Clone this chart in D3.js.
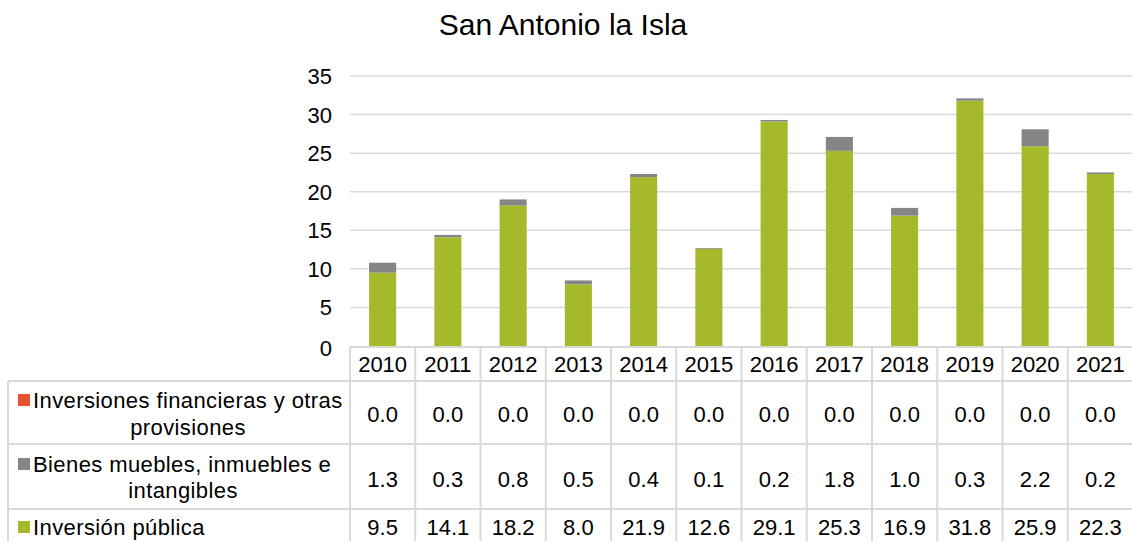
<!DOCTYPE html>
<html>
<head>
<meta charset="utf-8">
<script src="https://cdn.jsdelivr.net/npm/d3@7/dist/d3.min.js"></script>
<style>
  html, body { margin: 0; padding: 0; background: #fff; }
  svg { display: block; font-family: "Liberation Sans", Arial, sans-serif; }
</style>
</head>
<body>
<svg id="chart" width="1132" height="541"></svg>
<script>
const years = ["2010","2011","2012","2013","2014","2015","2016","2017","2018","2019","2020","2021"];
const inversionPublica = [9.5, 14.1, 18.2, 8.0, 21.9, 12.6, 29.1, 25.3, 16.9, 31.8, 25.9, 22.3];
const bienesMuebles = [1.3, 0.3, 0.8, 0.5, 0.4, 0.1, 0.2, 1.8, 1.0, 0.3, 2.2, 0.2];
const inversionesFinancieras = [0.0, 0.0, 0.0, 0.0, 0.0, 0.0, 0.0, 0.0, 0.0, 0.0, 0.0, 0.0];
const yTicks = [0, 5, 10, 15, 20, 25, 30, 35];
const chartTitle = "San Antonio la Isla";

const seriesList = [
  { key: "pub", values: inversionPublica, color: "#A6B92B", lines: ["Inversión pública"] },
  { key: "bie", values: bienesMuebles, color: "#858585", lines: ["Bienes muebles, inmuebles e", "intangibles"] },
  { key: "fin", values: inversionesFinancieras, color: "#E2532B", lines: ["Inversiones financieras y otras", "provisiones"] }
];

(function () {
const svg = d3.select("#chart");
const pLeft = 350, pRight = 1133, pTop = 76, pBottom = 346;
const gridColor = "#D9D9D9";
const fs = 22;

const x = d3.scaleBand().domain(years).range([pLeft, pRight]).paddingInner(0.585).paddingOuter(0.2925);
const xCell = d3.scaleBand().domain(years).range([pLeft, pRight]).padding(0);
const y = d3.scaleLinear().domain([0, 35]).range([pBottom, pTop]);

// title
svg.append("text").attr("x", 563).attr("y", 35).attr("text-anchor", "middle")
  .attr("font-size", 30).attr("fill", "#000").text(chartTitle);

// gridlines
svg.append("g").selectAll("line").data(yTicks.filter(d => d > 0)).join("line")
  .attr("x1", pLeft).attr("x2", pRight)
  .attr("y1", d => y(d)).attr("y2", d => y(d))
  .attr("stroke", gridColor).attr("stroke-width", 1.5);

// y axis labels
const yAxis = d3.axisLeft(y).tickValues(yTicks).tickSize(0).tickPadding(0).tickFormat(d3.format("d"));
const ya = svg.append("g").attr("transform", "translate(332,0)").call(yAxis);
ya.select(".domain").remove();
ya.selectAll("text").attr("font-size", fs).attr("fill", "#000")
  .attr("font-family", '"Liberation Sans", Arial, sans-serif').attr("dy", "0.34em");
ya.selectAll("text").filter(d => d === 0).attr("dy", "0.45em");

// stacked bars
const stackData = years.map((yr, i) => ({ year: yr, pub: inversionPublica[i], bie: bienesMuebles[i], fin: inversionesFinancieras[i] }));
const stack = d3.stack().keys(["pub", "bie", "fin"])(stackData);
const colorMap = { pub: "#A6B92B", bie: "#858585", fin: "#E2532B" };
svg.append("g").selectAll("g").data(stack).join("g")
  .attr("fill", d => colorMap[d.key])
  .selectAll("rect").data(d => d).join("rect")
  .attr("x", d => x(d.data.year))
  .attr("width", x.bandwidth())
  .attr("y", d => y(d[1]))
  .attr("height", d => Math.max(0, y(d[0]) - y(d[1])));

// data table
const rowTop = [347, 381, 444, 509];
const tableBottom = 575;
const legendLeft = 8;
const tg = svg.append("g").attr("stroke", gridColor).attr("stroke-width", 2);
tg.append("line").attr("x1", pLeft).attr("x2", pRight).attr("y1", rowTop[0]).attr("y2", rowTop[0]);
[rowTop[1], rowTop[2], rowTop[3]].forEach(yy => {
  tg.append("line").attr("x1", legendLeft).attr("x2", pRight).attr("y1", yy).attr("y2", yy);
});
tg.append("line").attr("x1", legendLeft).attr("x2", legendLeft).attr("y1", rowTop[1]).attr("y2", tableBottom);
years.forEach(yr => {
  tg.append("line").attr("x1", xCell(yr)).attr("x2", xCell(yr)).attr("y1", rowTop[0]).attr("y2", tableBottom);
});
tg.append("line").attr("x1", pRight).attr("x2", pRight).attr("y1", rowTop[0]).attr("y2", tableBottom);

// header years
svg.append("g").selectAll("text").data(years).join("text")
  .attr("x", d => xCell(d) + xCell.bandwidth() / 2).attr("y", 372)
  .attr("text-anchor", "middle").attr("font-size", fs).attr("fill", "#000").text(d => d);

// rows
const rows = [
  { s: seriesList[2], valueY: 422, line1Y: 408, line2Y: 435, line2X: 188 },
  { s: seriesList[1], valueY: 487, line1Y: 472, line2Y: 498, line2X: 183 },
  { s: seriesList[0], valueY: 535, line1Y: 535 }
];
const fmt = d3.format(".1f");
rows.forEach(r => {
  svg.append("rect").attr("x", 18).attr("y", r.line1Y - 14).attr("width", 12).attr("height", 12).attr("fill", r.s.color);
  svg.append("text").attr("x", 33).attr("y", r.line1Y).attr("font-size", fs)
    .attr("letter-spacing", 0.4).attr("fill", "#000").text(r.s.lines[0]);
  if (r.s.lines[1]) {
    svg.append("text").attr("x", r.line2X).attr("y", r.line2Y).attr("text-anchor", "middle")
      .attr("font-size", fs).attr("letter-spacing", 0.4).attr("fill", "#000").text(r.s.lines[1]);
  }
  svg.append("g").selectAll("text").data(r.s.values).join("text")
    .attr("x", (d, i) => xCell(years[i]) + xCell.bandwidth() / 2).attr("y", r.valueY)
    .attr("text-anchor", "middle").attr("font-size", fs).attr("fill", "#000").text(d => fmt(d));
});
})();
</script>
</body>
</html>
